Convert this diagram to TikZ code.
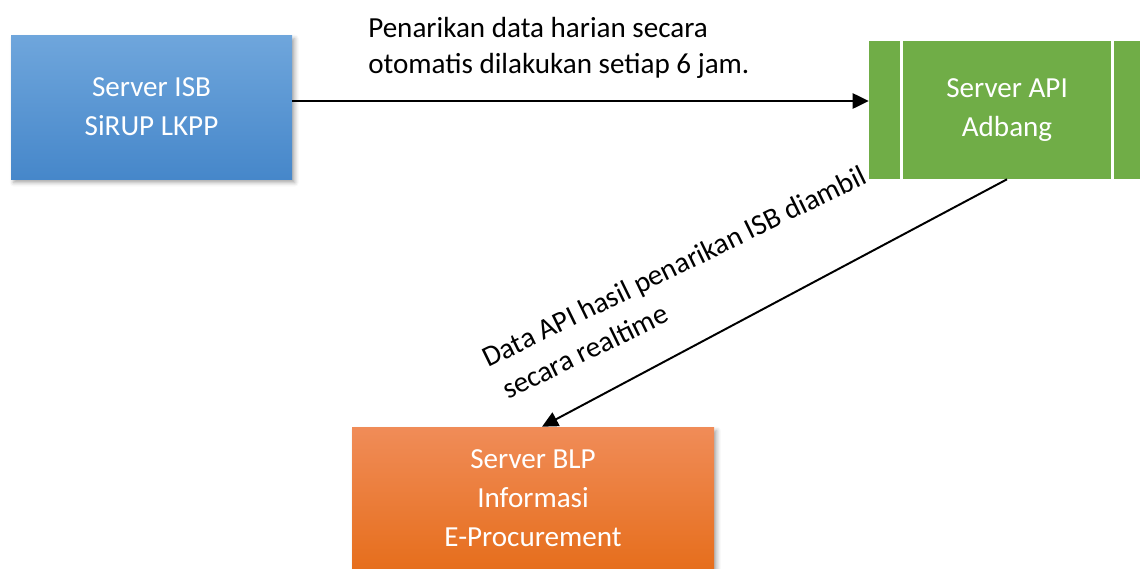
\documentclass[tikz,border=0pt]{standalone}
\usepackage{fontspec}
\setmainfont{Carlito}
\usepackage{tikz}
\usetikzlibrary{shapes}
\usetikzlibrary{arrows.meta}
\usetikzlibrary{shadows.blur}

\definecolor{isbblueTop}{RGB}{111,166,220}
\definecolor{isbblueBot}{RGB}{70,135,202}
\definecolor{apigreen}{RGB}{112,173,71}
\definecolor{blpTop}{RGB}{240,140,88}
\definecolor{blpMid}{RGB}{243,126,42}
\definecolor{blpBot}{RGB}{230,110,28}

\begin{document}
\begin{tikzpicture}[
	box/.style={rectangle, inner sep=0pt, align=center, text=white, font=\fontsize{20.7}{27.7}\selectfont},
	shade/.style={blur shadow={shadow xshift=0.07cm, shadow yshift=-0.09cm, shadow blur radius=0.1cm, shadow opacity=35}},
	lbl/.style={anchor=base west, inner sep=0pt, font=\fontsize{20.7}{25}\selectfont},
	arr/.style={-{Triangle[length=0.4cm,width=0.38cm]}, line width=1.4pt}
]
					\path[use as bounding box] (0,0) rectangle (28.5,-14.2);
					\node[box, shade, minimum width=7.025cm, minimum height=3.6cm, top color=isbblueTop, bottom color=isbblueBot] (isb) at (3.7875,-2.675) {Server ISB\\SiRUP LKPP};
					\node[box, minimum width=6.9cm, minimum height=3.45cm, fill=apigreen] (api) at (25.175,-2.75) {Server API\\Adbang};
					\node[box, shade, minimum width=9.05cm, minimum height=3.575cm, top color=blpTop, middle color=blpMid, bottom color=blpBot] (blp) at (13.325,-12.4625) {Server BLP\\Informasi\\E-Procurement};
					\draw[white, line width=2pt] ([xshift=0.825cm]api.north west) -- ([xshift=0.825cm]api.south west);\draw[white, line width=2pt] ([xshift=-0.825cm]api.north east) -- ([xshift=-0.825cm]api.south east);
					\node[lbl] (pull1) at (9.2,-0.925) {Penarikan data harian secara};
					\node[lbl] (pull2) at (9.2,-1.825) {otomatis dilakukan setiap 6 jam.};
					\node[lbl, rotate=26] (fetch1) at (12.2,-9.2) {Data API hasil penarikan ISB diambil};
					\node[lbl, rotate=26] (fetch2) at (12.7,-10.0) {secara realtime};
					\draw[arr] ([yshift=0.15cm]isb.east) -- ([yshift=0.15cm]isb.east -| api.west);
					\draw[arr] (api.south) -- ([xshift=0.225cm]blp.north);
				\end{tikzpicture}
\end{document}
